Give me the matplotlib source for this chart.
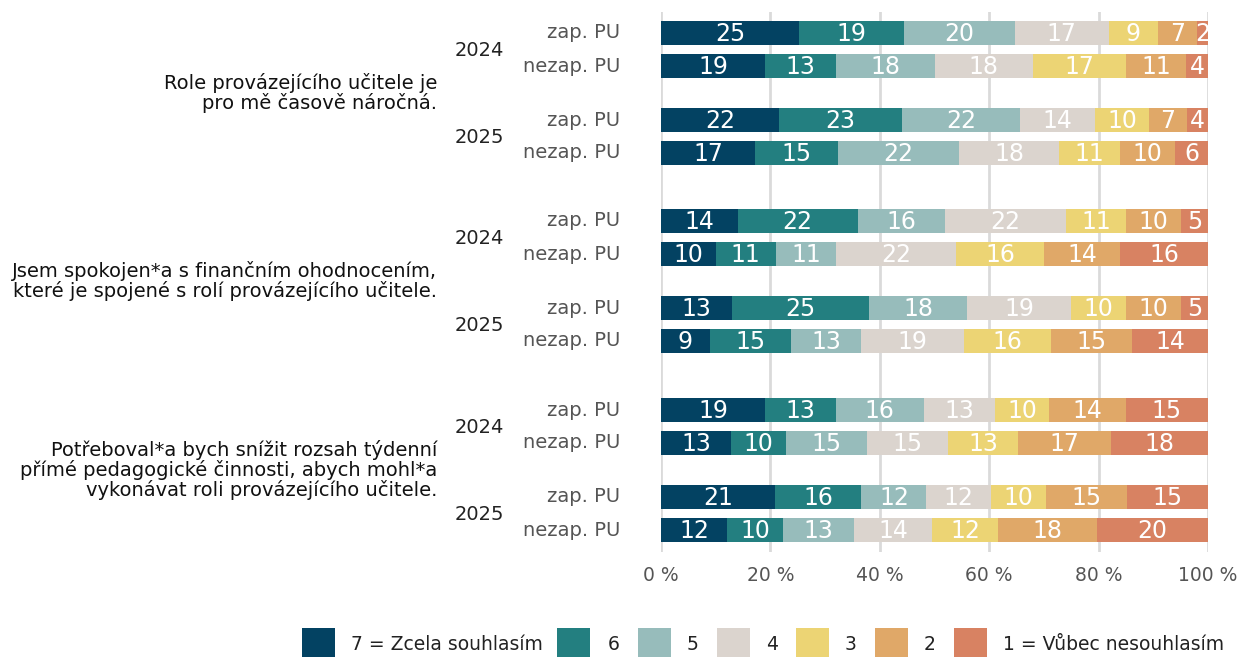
import matplotlib
matplotlib.use("Agg")
import matplotlib.pyplot as plt
from matplotlib.patches import Rectangle
import numpy as np

plt.rcParams['font.family'] = ['DejaVu Sans']

questions = [
    "Role provázejícího učitele je\npro mě časově náročná.",
    "Jsem spokojen*a s finančním ohodnocením,\nkteré je spojené s rolí provázejícího učitele.",
    "Potřeboval*a bych snížit rozsah týdenní\npřímé pedagogické činnosti, abych mohl*a\nvykonávat roli provázejícího učitele.",
]
years = ["2024", "2025"]
groups = ["zap. PU", "nezap. PU"]
legend_labels = ["7 = Zcela souhlasím", "6", "5", "4", "3", "2", "1 = Vůbec nesouhlasím"]
colors = ["#034262", "#237f80", "#97bcbb", "#dbd4ce", "#ecd474", "#e0a868", "#d88262"]

q1_2024_zap = [25, 19, 20, 17, 9, 7, 2]
q1_2024_nezap = [19, 13, 18, 18, 17, 11, 4]
q1_2025_zap = [22, 23, 22, 14, 10, 7, 4]
q1_2025_nezap = [17, 15, 22, 18, 11, 10, 6]
q2_2024_zap = [14, 22, 16, 22, 11, 10, 5]
q2_2024_nezap = [10, 11, 11, 22, 16, 14, 16]
q2_2025_zap = [13, 25, 18, 19, 10, 10, 5]
q2_2025_nezap = [9, 15, 13, 19, 16, 15, 14]
q3_2024_zap = [19, 13, 16, 13, 10, 14, 15]
q3_2024_nezap = [13, 10, 15, 15, 13, 17, 18]
q3_2025_zap = [21, 16, 12, 12, 10, 15, 15]
q3_2025_nezap = [12, 10, 13, 14, 12, 18, 20]

rows = [
    q1_2024_zap, q1_2024_nezap, q1_2025_zap, q1_2025_nezap,
    q2_2024_zap, q2_2024_nezap, q2_2025_zap, q2_2025_nezap,
    q3_2024_zap, q3_2024_nezap, q3_2025_zap, q3_2025_nezap,
]
xticks = [0, 20, 40, 60, 80, 100]

W, H = 1237, 657
fig = plt.figure(figsize=(W / 100, H / 100), dpi=100)
ax_top, ax_bot = 12, 552
ax = fig.add_axes([661 / W, 1 - ax_bot / H, 547 / W, (ax_bot - ax_top) / H])
ax.set_xlim(0, 100)
ax.set_ylim(ax_bot, ax_top)

# layout: row centers (pixel-like units)
group_starts = [33, 221, 410]
pair_offset = 87
row_gap = 33
ycenters = []
for gs in group_starts:
    for yi in range(2):
        for ri in range(2):
            ycenters.append(gs + yi * pair_offset + ri * row_gap)

bar_h = 24
for yc, vals in zip(ycenters, rows):
    v = np.array(vals, dtype=float)
    v = v / v.sum() * 100
    left = 0
    for k, (w, raw) in enumerate(zip(v, vals)):
        ax.barh(yc, w, left=left, height=bar_h, color=colors[k], zorder=3, linewidth=0)
        ax.text(left + w / 2, yc + 1, str(raw), ha='center', va='center', color='white',
                fontsize=17, zorder=4)
        left += w

ax.set_xticks(xticks)
ax.set_xticklabels([f"{t} %" for t in xticks], fontsize=13.5, color='#555555')
ax.tick_params(axis='x', length=0, pad=10)
ax.set_yticks([])
ax.grid(axis='x', color='#dadada', linewidth=2, zorder=0)
for s in ax.spines.values():
    s.set_visible(False)

def fy(p):
    return 1 - p / H

for qi, q in enumerate(questions):
    base = qi * 4
    for yi in range(2):
        for ri in range(2):
            yc = ycenters[base + yi * 2 + ri]
            fig.text(620 / W, fy(yc), groups[ri], ha='right', va='center', fontsize=14, color='#555555')
        ymid = (ycenters[base + yi * 2] + ycenters[base + yi * 2 + 1]) / 2
        fig.text(479 / W, fy(ymid + 1), years[yi], ha='center', va='center', fontsize=14, color='#222222')
    qmid = (ycenters[base] + ycenters[base + 3]) / 2
    fig.text(437 / W, fy(qmid), q, ha='right', va='center', fontsize=14, color='#111111',
             multialignment='right', linespacing=1.02)

# legend
patch_x = [302, 557, 638, 717, 796, 875, 954]
text_x = [351, 608, 687, 766, 845, 924, 1003]
for px, tx, c, lab in zip(patch_x, text_x, colors, legend_labels):
    fig.add_artist(Rectangle((px / W, 1 - 660 / H), 33 / W, 32 / H, transform=fig.transFigure,
                             color=c, linewidth=0))
    fig.text(tx / W, fy(645), lab, ha='left', va='center', fontsize=13.5, color='#222222')

fig.savefig("out.png", dpi=100)
